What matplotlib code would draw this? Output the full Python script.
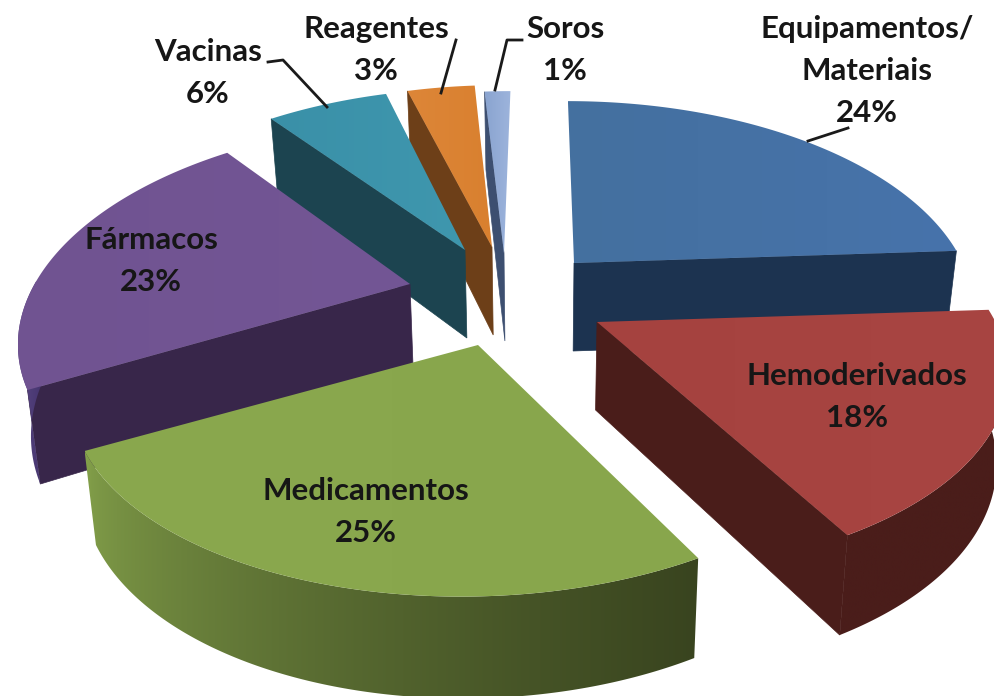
import numpy as np
import matplotlib
matplotlib.use("Agg")
import matplotlib.pyplot as plt
from matplotlib.colors import to_rgb
from matplotlib.patches import Polygon

# category labels, as printed on the chart
names = ["Equipamentos/\nMateriais", "Hemoderivados", "Medicamentos", "Fármacos",
         "Vacinas", "Reagentes", "Soros"]
percent_labels = [24, 18, 25, 23, 6, 3, 1]
# wedge sizes as they measure in the picture (%), a bit off the printed labels
drawn_shares = [24, 18, 25, 22.2, 6.1, 3.4, 1.3]

top_colors = [("#44709f", "#4773ab"), ("#a5423f", "#a84542"), ("#8aa84e", "#88a64c"),
              ("#705391", "#735695"), ("#3a90a8", "#3f97ae"), ("#dd8638", "#d9802f"),
              ("#8aa4d0", "#9db4dc")]
wall_colors = ["#1c3350", "#4a1d1a", "#3a4520", "#38264a", "#1c4450", "#6d3f18", "#3d4f70"]
# rim side: colour at its left end, colour at its right end, gradient exponent
rim_colors = [("#1c3350", "#1c3350", 1), ("#4a1d1a", "#4a1d1a", 1), ("#83a04a", "#39441f", 0.6),
              ("#5a4785", "#3f2f66", 1), ("#1c4450", "#1c4450", 1), ("#6d3f18", "#6d3f18", 1),
              ("#3d4f70", "#3d4f70", 1)]

# layout: where each exploded wedge's tip sits, in pixels, and its sideways stretch
apex_x = [574, 597, 478, 410, 465, 492, 504]
apex_y = [263, 322, 345, 284, 250, 247, 253]
stretch = [1.01, 1.035, 1.025, 0.975, 0.99, 1.0, 1.0]
RX, RY, PERSP, VANISH_X, DEPTH, LEAN = 385, 197, 0.217, 540, 88, 0.025

label_pos = [(867, 71), (857, 397), (366, 512), (151, 261), (208, 73), (376, 50), (565, 50)]
leader_x = [[808, 848], [268, 283, 327], [456, 441], [522, 507, 495]]
leader_y = [[141, 128], [62, 60, 107], [40, 93], [40, 40, 90]]


def project(theta, x0, y0, k):
    """Perspective position of the rim at clockwise angle theta (deg from 12 o'clock)."""
    t = np.radians(theta)
    sx, cy = np.sin(t), np.cos(t)
    w = 1 + PERSP * cy
    return (x0 + (RX * k * sx - (x0 - VANISH_X) * PERSP * cy) / w,
            y0 - RY * cy / w,
            w)


def drop(x, y, w):
    """Foot of the slice's side under a top-face point (nearer means longer)."""
    return x + (VANISH_X - x) * LEAN, y + DEPTH * w ** -0.6


def gradient_fill(ax, outline, c1, c2, power, z):
    """Fill a polygon with a left-to-right colour gradient."""
    poly = Polygon(outline, closed=True, fc="none", ec="none")
    ax.add_patch(poly)
    f = np.linspace(0, 1, 128) ** power
    c1, c2 = np.array(to_rgb(c1)), np.array(to_rgb(c2))
    img = (c1 + (c2 - c1) * f[:, None])[None, :, :]
    im = ax.imshow(img, extent=(outline[:, 0].min(), outline[:, 0].max(),
                                outline[:, 1].max(), outline[:, 1].min()),
                   aspect="auto", interpolation="bilinear", zorder=z)
    im.set_clip_path(poly)


def draw_wall(ax, x0, y0, xe, ye, we, color, z):
    fx, fy = drop(xe, ye, we)
    ax0, ay0 = drop(x0, y0, 1.0)
    pts = [(x0, y0), (xe, ye), (fx, fy), (ax0, ay0)]
    ax.add_patch(Polygon(pts, closed=True, fc=color, ec=color, lw=0.5, zorder=z))


def draw_slice(ax, i, start, end, z):
    x0, y0 = apex_x[i], apex_y[i]
    theta = np.linspace(start, end, 200)
    rx, ry, w = project(theta, x0, y0, stretch[i])

    # walls facing the viewer: normal of the edge must point downwards on screen
    if np.cos(np.radians(start - 90)) < 0:
        draw_wall(ax, x0, y0, rx[0], ry[0], w[0], wall_colors[i], z)
    if np.cos(np.radians(end + 90)) < 0:
        draw_wall(ax, x0, y0, rx[-1], ry[-1], w[-1], wall_colors[i], z)

    # rim side, only the part turned to the viewer
    front = np.cos(np.radians(theta)) < 0.02
    if front.any():
        fx, fy = drop(rx[front], ry[front], w[front])
        rim = np.column_stack([np.r_[rx[front], fx[::-1]], np.r_[ry[front], fy[::-1]]])
        c1, c2, power = rim_colors[i]
        gradient_fill(ax, rim, c1, c2, power, z + 0.1)

    outline = np.column_stack([np.r_[x0, rx], np.r_[y0, ry]])
    gradient_fill(ax, outline, top_colors[i][0], top_colors[i][1], 1, z + 0.2)


plt.rcParams["font.family"] = ["Lato", "DejaVu Sans"]

fig = plt.figure(figsize=(9.94, 6.96), dpi=100)
ax = fig.add_axes([0, 0, 1, 1])

edges = np.r_[0, np.cumsum(drawn_shares)] / np.sum(drawn_shares) * 360
for z, i in enumerate([0, 6, 5, 4, 3, 1, 2], start=1):
    draw_slice(ax, i, edges[i], edges[i + 1], z)

ax.set_xlim(0, 994)
ax.set_ylim(696, 0)
ax.axis("off")

for name, pct, (lx, ly) in zip(names, percent_labels, label_pos):
    ax.text(lx, ly, f"{name}\n{pct}%", ha="center", va="center", fontsize=22.5,
            fontweight="bold", color="#161616", linespacing=1.6, zorder=20)

# leader lines
for xs, ys in zip(leader_x, leader_y):
    ax.plot(xs, ys, color="#1a1a1a", lw=2, zorder=19)

fig.savefig("out.png", dpi=100)
